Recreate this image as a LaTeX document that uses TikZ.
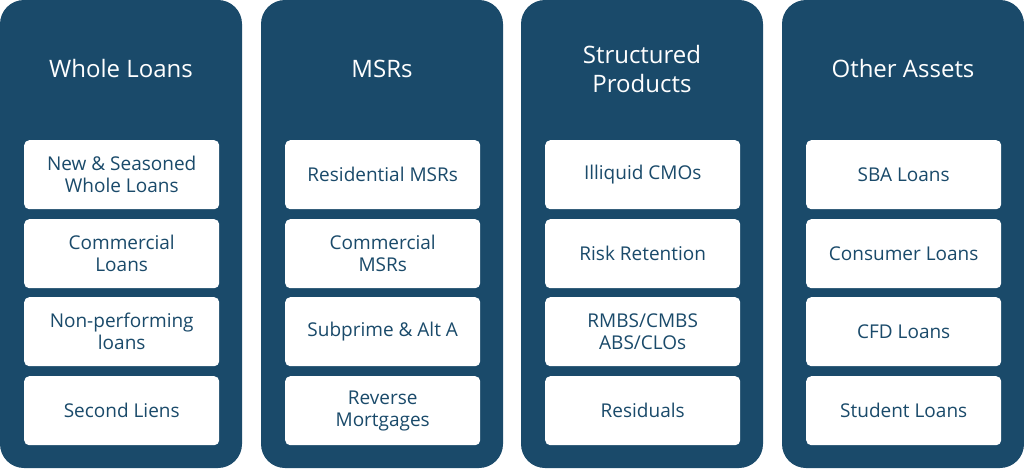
\documentclass[tikz,border=0pt]{standalone}
\usepackage{fontspec}
\setmainfont{Open Sans}
\definecolor{navy}{HTML}{1A4A6A}
\begin{document}
\begin{tikzpicture}[x=1pt,y=-1pt,
  col/.style={fill=navy,draw=none,rounded corners=24pt},
  box/.style={fill=white,draw=none,rounded corners=5pt,minimum width=195pt,minimum height=69pt,anchor=north west,align=center,text=navy,font=\fontsize{19}{22}\selectfont},
  ttl/.style={text=white,align=center,font=\fontsize{24}{29}\selectfont}]
\useasboundingbox (0,0) rectangle (1024,468);
\foreach \x/\t/\a/\b/\c/\d [count=\i] in {
 0/{Whole Loans}/{New \& Seasoned\\Whole Loans}/{Commercial\\Loans}/{Non-performing\\loans}/{Second Liens},
 261/{MSRs}/{Residential MSRs}/{Commercial\\MSRs}/{Subprime \& Alt A}/{Reverse\\Mortgages},
 521/{Structured\\Products}/{Illiquid CMOs}/{Risk Retention}/{RMBS/CMBS\\ABS/CLOs}/{Residuals},
 782/{Other Assets}/{SBA Loans}/{Consumer Loans}/{CFD Loans}/{Student Loans}}{
  \fill[col] (\x,0) rectangle ++(242,468);
  \node[ttl] (t\i) at (\x+121,69) {\t};
  \node[box] (a\i) at (\x+24,140) {\a};
  \node[box] (b\i) at (\x+24,219) {\b};
  \node[box] (c\i) at (\x+24,297) {\c};
  \node[box] (d\i) at (\x+24,376) {\d};
}
\end{tikzpicture}
\end{document}
